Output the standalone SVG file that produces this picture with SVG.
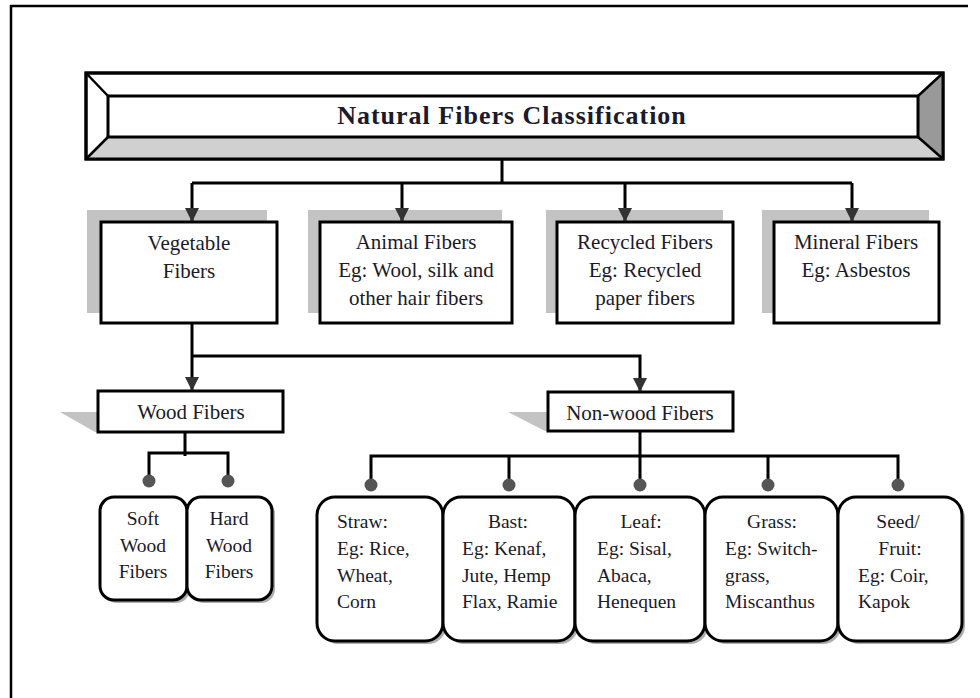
<svg xmlns="http://www.w3.org/2000/svg" width="980" height="698" viewBox="0 0 980 698">
<style>
.t{font-family:"Liberation Serif","Times New Roman",serif;fill:#1a1a2a;}
.top{font-size:21px;text-anchor:middle;}
.mid{font-size:21px;text-anchor:middle;}
.bot{font-size:19.5px;}
.c{text-anchor:middle;}
.box{fill:#fff;stroke:#000;stroke-width:3;}
.shd{fill:#c3c3c3;}
.rbox{fill:#fff;stroke:#000;stroke-width:3;}
.rshd{fill:#8a8a8a;opacity:0.7;}
.ln{fill:none;stroke:#000;stroke-width:3;}
.dot{fill:#555;}
</style>
<defs>
<marker id="ah" viewBox="0 0 14 14" refX="14" refY="7" markerWidth="14" markerHeight="14" markerUnits="userSpaceOnUse" orient="auto">
<path d="M0,0 L14,7 L0,14 z" fill="#333"/>
</marker>
</defs>
<rect x="0" y="0" width="980" height="698" fill="#fff"/>
<path d="M11,700 V6 H968" fill="none" stroke="#000" stroke-width="2.5"/>

<g id="title">
<rect x="86" y="73" width="857" height="86" fill="#fff" stroke="#000" stroke-width="3"/>
<polygon points="86,159 108,137 918,137 943,159" fill="#d0d0d0"/>
<polygon points="943,73 918,96 918,137 943,159" fill="#999"/>
<line x1="86" y1="73" x2="108" y2="96" stroke="#000" stroke-width="2.5"/>
<line x1="86" y1="159" x2="108" y2="137" stroke="#000" stroke-width="2.5"/>
<line x1="943" y1="73" x2="918" y2="96" stroke="#000" stroke-width="2.5"/>
<line x1="943" y1="159" x2="918" y2="137" stroke="#000" stroke-width="2.5"/>
<rect x="86" y="73" width="857" height="86" fill="none" stroke="#000" stroke-width="3"/>
<rect x="108" y="96" width="810" height="41" fill="#fff" stroke="#000" stroke-width="3"/>
<text class="t" x="512" y="124" font-size="26" font-weight="bold" text-anchor="middle" letter-spacing="1">Natural Fibers Classification</text>
</g>

<g id="vegetable">
<rect class="shd" x="87" y="210" width="180" height="103"/>
<rect class="box" x="101" y="222" width="176" height="101"/>
<text class="t top" x="189" y="250">Vegetable</text>
<text class="t top" x="189" y="278">Fibers</text>
</g>
<g id="animal">
<rect class="shd" x="308" y="210" width="194" height="103"/>
<rect class="box" x="320" y="222" width="192" height="101"/>
<text class="t top" x="416" y="249">Animal Fibers</text>
<text class="t top" x="416" y="277">Eg: Wool, silk and</text>
<text class="t top" x="416" y="305">other hair fibers</text>
</g>
<g id="recycled">
<rect class="shd" x="546" y="210" width="177" height="103"/>
<rect class="box" x="557" y="222" width="176" height="101"/>
<text class="t top" x="645" y="249">Recycled Fibers</text>
<text class="t top" x="645" y="277">Eg: Recycled</text>
<text class="t top" x="645" y="305">paper fibers</text>
</g>
<g id="mineral">
<rect class="shd" x="762" y="210" width="167" height="103"/>
<rect class="box" x="774" y="222" width="165" height="101"/>
<text class="t top" x="856" y="249">Mineral Fibers</text>
<text class="t top" x="856" y="277">Eg: Asbestos</text>
</g>

<g id="wood">
<polygon class="shd" points="60,412 100,412 100,432 95,432"/>
<rect class="box" x="98" y="391" width="185" height="41"/>
<text class="t mid" x="191" y="419">Wood Fibers</text>
</g>
<g id="nonwood">
<polygon class="shd" points="508,412 550,412 550,431 545,431"/>
<rect class="box" x="548" y="392" width="185" height="39"/>
<text class="t mid" x="640" y="420">Non-wood Fibers</text>
</g>

<g id="soft">
<rect class="rshd" x="103" y="500" width="87" height="103" rx="14"/>
<rect class="rbox" x="100" y="497" width="87" height="103" rx="14"/>
<text class="t bot c" x="143" y="525">Soft</text>
<text class="t bot c" x="143" y="552">Wood</text>
<text class="t bot c" x="143" y="578">Fibers</text>
</g>
<g id="hard">
<rect class="rshd" x="190" y="500" width="85" height="103" rx="14"/>
<rect class="rbox" x="187" y="497" width="85" height="103" rx="14"/>
<text class="t bot c" x="229" y="525">Hard</text>
<text class="t bot c" x="229" y="552">Wood</text>
<text class="t bot c" x="229" y="578">Fibers</text>
</g>

<g id="straw">
<rect class="rshd" x="320" y="500" width="126" height="144" rx="18"/>
<rect class="rbox" x="317" y="497" width="126" height="144" rx="18"/>
<text class="t bot" x="337" y="528">Straw:</text>
<text class="t bot" x="337" y="555">Eg: Rice,</text>
<text class="t bot" x="337" y="582">Wheat,</text>
<text class="t bot" x="337" y="608">Corn</text>
</g>
<g id="bast">
<rect class="rshd" x="446" y="500" width="132" height="144" rx="18"/>
<rect class="rbox" x="443" y="497" width="132" height="144" rx="18"/>
<text class="t bot c" x="508" y="528">Bast:</text>
<text class="t bot" x="462" y="555">Eg: Kenaf,</text>
<text class="t bot" x="462" y="582">Jute, Hemp</text>
<text class="t bot" x="462" y="608">Flax, Ramie</text>
</g>
<g id="leaf">
<rect class="rshd" x="578" y="500" width="130" height="144" rx="18"/>
<rect class="rbox" x="575" y="497" width="130" height="144" rx="18"/>
<text class="t bot c" x="641" y="528">Leaf:</text>
<text class="t bot" x="597" y="555">Eg: Sisal,</text>
<text class="t bot" x="597" y="582">Abaca,</text>
<text class="t bot" x="597" y="608">Henequen</text>
</g>
<g id="grass">
<rect class="rshd" x="708" y="500" width="133" height="144" rx="18"/>
<rect class="rbox" x="705" y="497" width="133" height="144" rx="18"/>
<text class="t bot c" x="772" y="528">Grass:</text>
<text class="t bot" x="725" y="555">Eg: Switch-</text>
<text class="t bot" x="725" y="582">grass,</text>
<text class="t bot" x="725" y="608">Miscanthus</text>
</g>
<g id="seed">
<rect class="rshd" x="841" y="500" width="124" height="144" rx="18"/>
<rect class="rbox" x="838" y="497" width="124" height="144" rx="18"/>
<text class="t bot c" x="898" y="528">Seed/</text>
<text class="t bot c" x="900" y="555">Fruit:</text>
<text class="t bot" x="858" y="582">Eg: Coir,</text>
<text class="t bot" x="858" y="608">Kapok</text>
</g>

<g id="connectors">
<path class="ln" d="M502,159 V183 M192,183 H852"/>
<path class="ln" d="M192,183 V222" marker-end="url(#ah)"/>
<path class="ln" d="M402,183 V222" marker-end="url(#ah)"/>
<path class="ln" d="M625,183 V222" marker-end="url(#ah)"/>
<path class="ln" d="M852,183 V222" marker-end="url(#ah)"/>
<path class="ln" d="M192,323 V391" marker-end="url(#ah)"/>
<path class="ln" d="M192,356 H640 V392" marker-end="url(#ah)"/>
<path class="ln" d="M185,432 V456 M149,481 V453 H228 V481"/>
<path class="ln" d="M640,431 V485 M371,485 V456 H898 V485 M509,456 V485 M768,456 V485"/>
<circle class="dot" cx="149" cy="481" r="6.5"/>
<circle class="dot" cx="228" cy="481" r="6.5"/>
<circle class="dot" cx="371" cy="485" r="6.5"/>
<circle class="dot" cx="509" cy="485" r="6.5"/>
<circle class="dot" cx="640" cy="485" r="6.5"/>
<circle class="dot" cx="768" cy="485" r="6.5"/>
<circle class="dot" cx="898" cy="485" r="6.5"/>
</g>
</svg>
